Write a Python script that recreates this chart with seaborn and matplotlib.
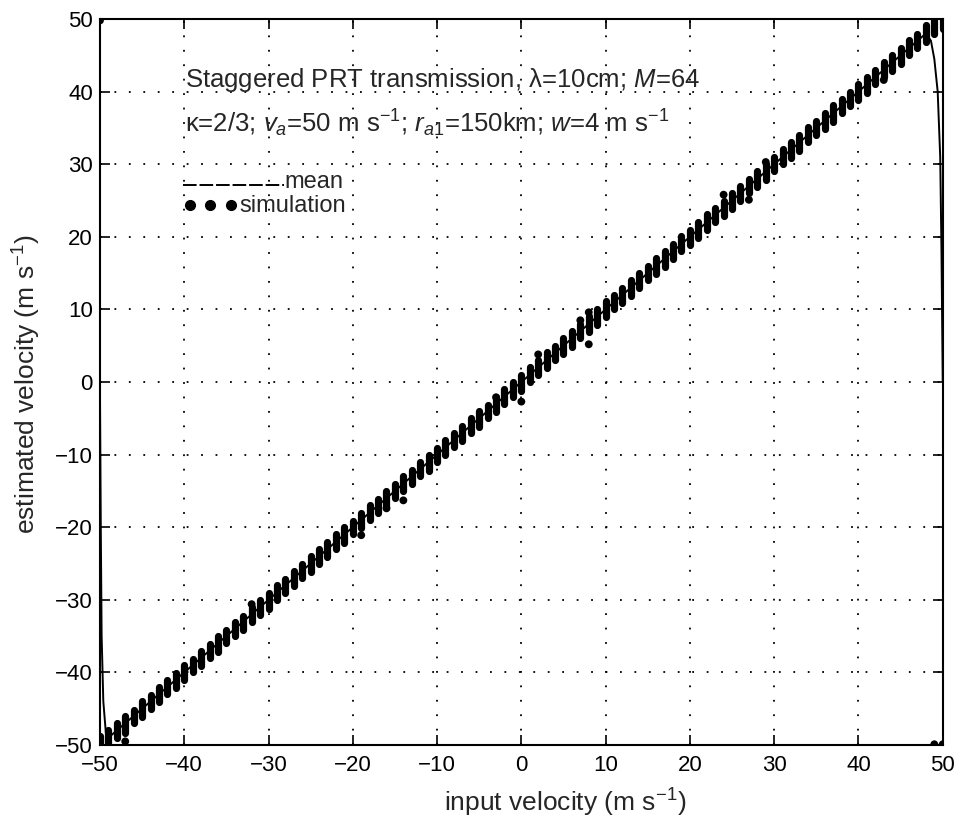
import numpy as np
import pandas as pd
import matplotlib
matplotlib.use("Agg")
import matplotlib.pyplot as plt
import seaborn as sns

# ---------------- data ----------------
sim_input = [-50, -49, -48, -47, -46, -45, -44, -43, -42, -41,
             -40, -39, -38, -37, -36, -35, -34, -33, -32, -31,
             -30, -29, -28, -27, -26, -25, -24, -23, -22, -21,
             -20, -19, -18, -17, -16, -15, -14, -13, -12, -11,
             -10, -9, -8, -7, -6, -5, -4, -3, -2, -1,
             0, 1, 2, 3, 4, 5, 6, 7, 8, 9,
             10, 11, 12, 13, 14, 15, 16, 17, 18, 19,
             20, 21, 22, 23, 24, 25, 26, 27, 28, 29,
             30, 31, 32, 33, 34, 35, 36, 37, 38, 39,
             40, 41, 42, 43, 44, 45, 46, 47, 48, 49, 50]
# lowest and highest simulated estimate in each cluster
sim_low = [-50.5, -50.2, -49.0, -48.3, -47.0, -46.1, -45.0, -44.1, -43.0, -42.2,
           -41.0, -40.0, -39.1, -38.0, -37.2, -36.0, -35.0, -34.1, -33.0, -32.1,
           -31.2, -30.0, -29.0, -28.1, -27.0, -26.2, -25.0, -24.1, -23.0, -22.2,
           -21.0, -20.1, -19.0, -18.1, -17.2, -16.0, -15.0, -14.1, -13.0, -12.2,
           -11.0, -10.1, -9.0, -8.1, -7.0, -6.2, -5.0, -4.1, -3.0, -2.1,
           -1.2, 0.0, 1.0, 1.9, 3.0, 3.9, 4.8, 6.0, 6.9, 7.8,
           9.0, 10.0, 10.9, 11.8, 13.0, 14.0, 14.9, 15.8, 17.0, 18.0,
           18.9, 19.8, 21.0, 22.0, 22.9, 23.8, 25.0, 26.0, 26.9, 27.8,
           29.0, 30.0, 30.9, 31.8, 33.0, 34.0, 34.9, 35.8, 37.0, 38.0,
           38.9, 39.8, 41.0, 42.0, 42.9, 43.8, 45.0, 46.0, 46.9, 48.0, 48.6]
sim_high = [-48.8, -48.0, -47.0, -46.0, -45.2, -44.0, -43.1, -42.0, -41.0, -40.1,
            -39.0, -38.2, -37.0, -36.1, -35.0, -34.1, -33.0, -32.2, -31.0, -30.0,
            -29.1, -28.0, -27.1, -26.0, -25.1, -24.0, -23.0, -22.1, -21.0, -20.0,
            -19.1, -18.0, -17.0, -16.1, -15.0, -14.1, -13.0, -12.1, -11.0, -10.0,
            -9.1, -8.0, -7.0, -6.1, -5.0, -4.0, -3.1, -2.0, -1.0, 0.0,
            0.9, 2.0, 3.0, 4.1, 5.0, 6.0, 7.0, 8.0, 9.1, 10.0,
            11.1, 12.0, 13.0, 14.1, 15.0, 16.0, 17.1, 18.0, 19.0, 20.1,
            21.0, 22.0, 23.1, 24.0, 25.0, 26.1, 27.0, 28.0, 29.1, 30.0,
            31.0, 32.1, 33.0, 34.0, 35.1, 36.0, 37.0, 38.1, 39.0, 40.0,
            41.1, 42.0, 43.0, 44.1, 45.0, 46.0, 47.1, 48.0, 49.2, 50.5, 50.5]
# isolated simulation points
out_input = [-50, -47, -32, -19, -16, -14, -3, 0, 2, 7, 8, 8, 24, 27, 29, 43, 49, 50]
out_est = [49.8, -49.5, -30.6, -21.1, -17.4, -16.3, -2.1, -2.7, 3.8, 8.5, 9.6, 5.2,
           25.8, 25.1, 30.3, 41.6, -49.9, -49.9]
# mean estimate
mean_input = [-50.0, -49.9, -49.8, -49.6, -49.3, -49.0, 48.0, 48.6, 49.0, 49.4, 49.7, 49.85, 50.0]
mean_est = [-1.0, -20.0, -35.0, -44.0, -48.3, -49.0, 48.0, 47.0, 44.5, 40.0, 31.0, 18.0, 0.0]

x_ticks = [-50, -40, -30, -20, -10, 0, 10, 20, 30, 40, 50]
y_ticks = [-50, -40, -30, -20, -10, 0, 10, 20, 30, 40, 50]

# ---------------- style ----------------
sns.set_style("ticks")
plt.rcParams["font.family"] = ["Liberation Sans", "DejaVu Sans"]
plt.rcParams["mathtext.fontset"] = "custom"
plt.rcParams["mathtext.rm"] = "Liberation Sans"
plt.rcParams["mathtext.it"] = "Liberation Sans:italic"
plt.rcParams["mathtext.bf"] = "Liberation Sans:bold"
plt.rcParams["axes.unicode_minus"] = True

FS_TICK = 16
FS_TXT = 18.5
FS_LEG = 17
fig = plt.figure(figsize=(9.61, 8.30), dpi=100)
ax = fig.add_axes([0.104, 0.1024, 0.877, 0.8747])

# clusters of simulated estimates
clusters = pd.DataFrame({
    "input": sim_input + sim_input,
    "est": sim_low + sim_high,
})
sns.lineplot(data=clusters, x="input", y="est", units="input", estimator=None,
             sort=False, color="black", lw=5.2, solid_capstyle="round", ax=ax,
             legend=False)

outl = pd.DataFrame({"input": out_input, "est": out_est})
sns.scatterplot(data=outl, x="input", y="est", color="black", s=32,
                edgecolor="none", ax=ax, legend=False)

mean_df = pd.DataFrame({"input": mean_input, "est": mean_est})
sns.lineplot(data=mean_df, x="input", y="est", sort=False, estimator=None,
             color="black", lw=1.4, ax=ax, legend=False)

ax.set_xlim(-50, 50)
ax.set_ylim(-50, 50)
ax.set_xticks(x_ticks)
ax.set_yticks(y_ticks)
ax.set_xticklabels([f"{v}".replace("-", "\u2212") for v in x_ticks], fontsize=FS_TICK)
ax.set_yticklabels([f"{v}".replace("-", "\u2212") for v in y_ticks], fontsize=FS_TICK)
ax.tick_params(direction="in", length=7, width=1.2, top=True, right=True,
               colors="black")
ax.tick_params(axis="x", pad=7)
ax.tick_params(axis="y", pad=5)
ax.grid(True, color="black", linestyle=(0, (1, 7)), linewidth=1.3)
for sp in ax.spines.values():
    sp.set_visible(True)
    sp.set_linewidth(1.5)
    sp.set_color("black")

ax.set_xlabel(r"input velocity (m s$^{-1}$)", fontsize=19)
ax.set_ylabel(r"estimated velocity (m s$^{-1}$)", fontsize=19)
ax.xaxis.set_label_coords(0.552, -0.058)
ax.yaxis.set_label_coords(-0.067, 0.497)

# annotations
ax.text(0.101, 0.916, "Staggered PRT transmission, \u03bb=10cm; $M$=64",
        transform=ax.transAxes, fontsize=FS_TXT, va="center", ha="left")
ax.text(0.101, 0.857,
        "\u03ba=2/3; $v_a$=50 m s$^{-1}$; $r_{a1}$=150km; $w$=4 m s$^{-1}$",
        transform=ax.transAxes, fontsize=FS_TXT, va="center", ha="left")

# legend (no frame, like the original)
ax.plot([0.098, 0.218], [0.772, 0.772], transform=ax.transAxes, color="black",
        lw=1.4, dashes=(7, 1.5))
ax.text(0.219, 0.775, "mean", transform=ax.transAxes, fontsize=FS_LEG,
        va="center", ha="left")
ax.plot([0.107, 0.131, 0.155], [0.744, 0.744, 0.744], transform=ax.transAxes,
        ls="none", marker="o", ms=7, color="black")
ax.text(0.166, 0.743, "simulation", transform=ax.transAxes, fontsize=FS_LEG,
        va="center", ha="left")

fig.savefig("out.png", dpi=100)
